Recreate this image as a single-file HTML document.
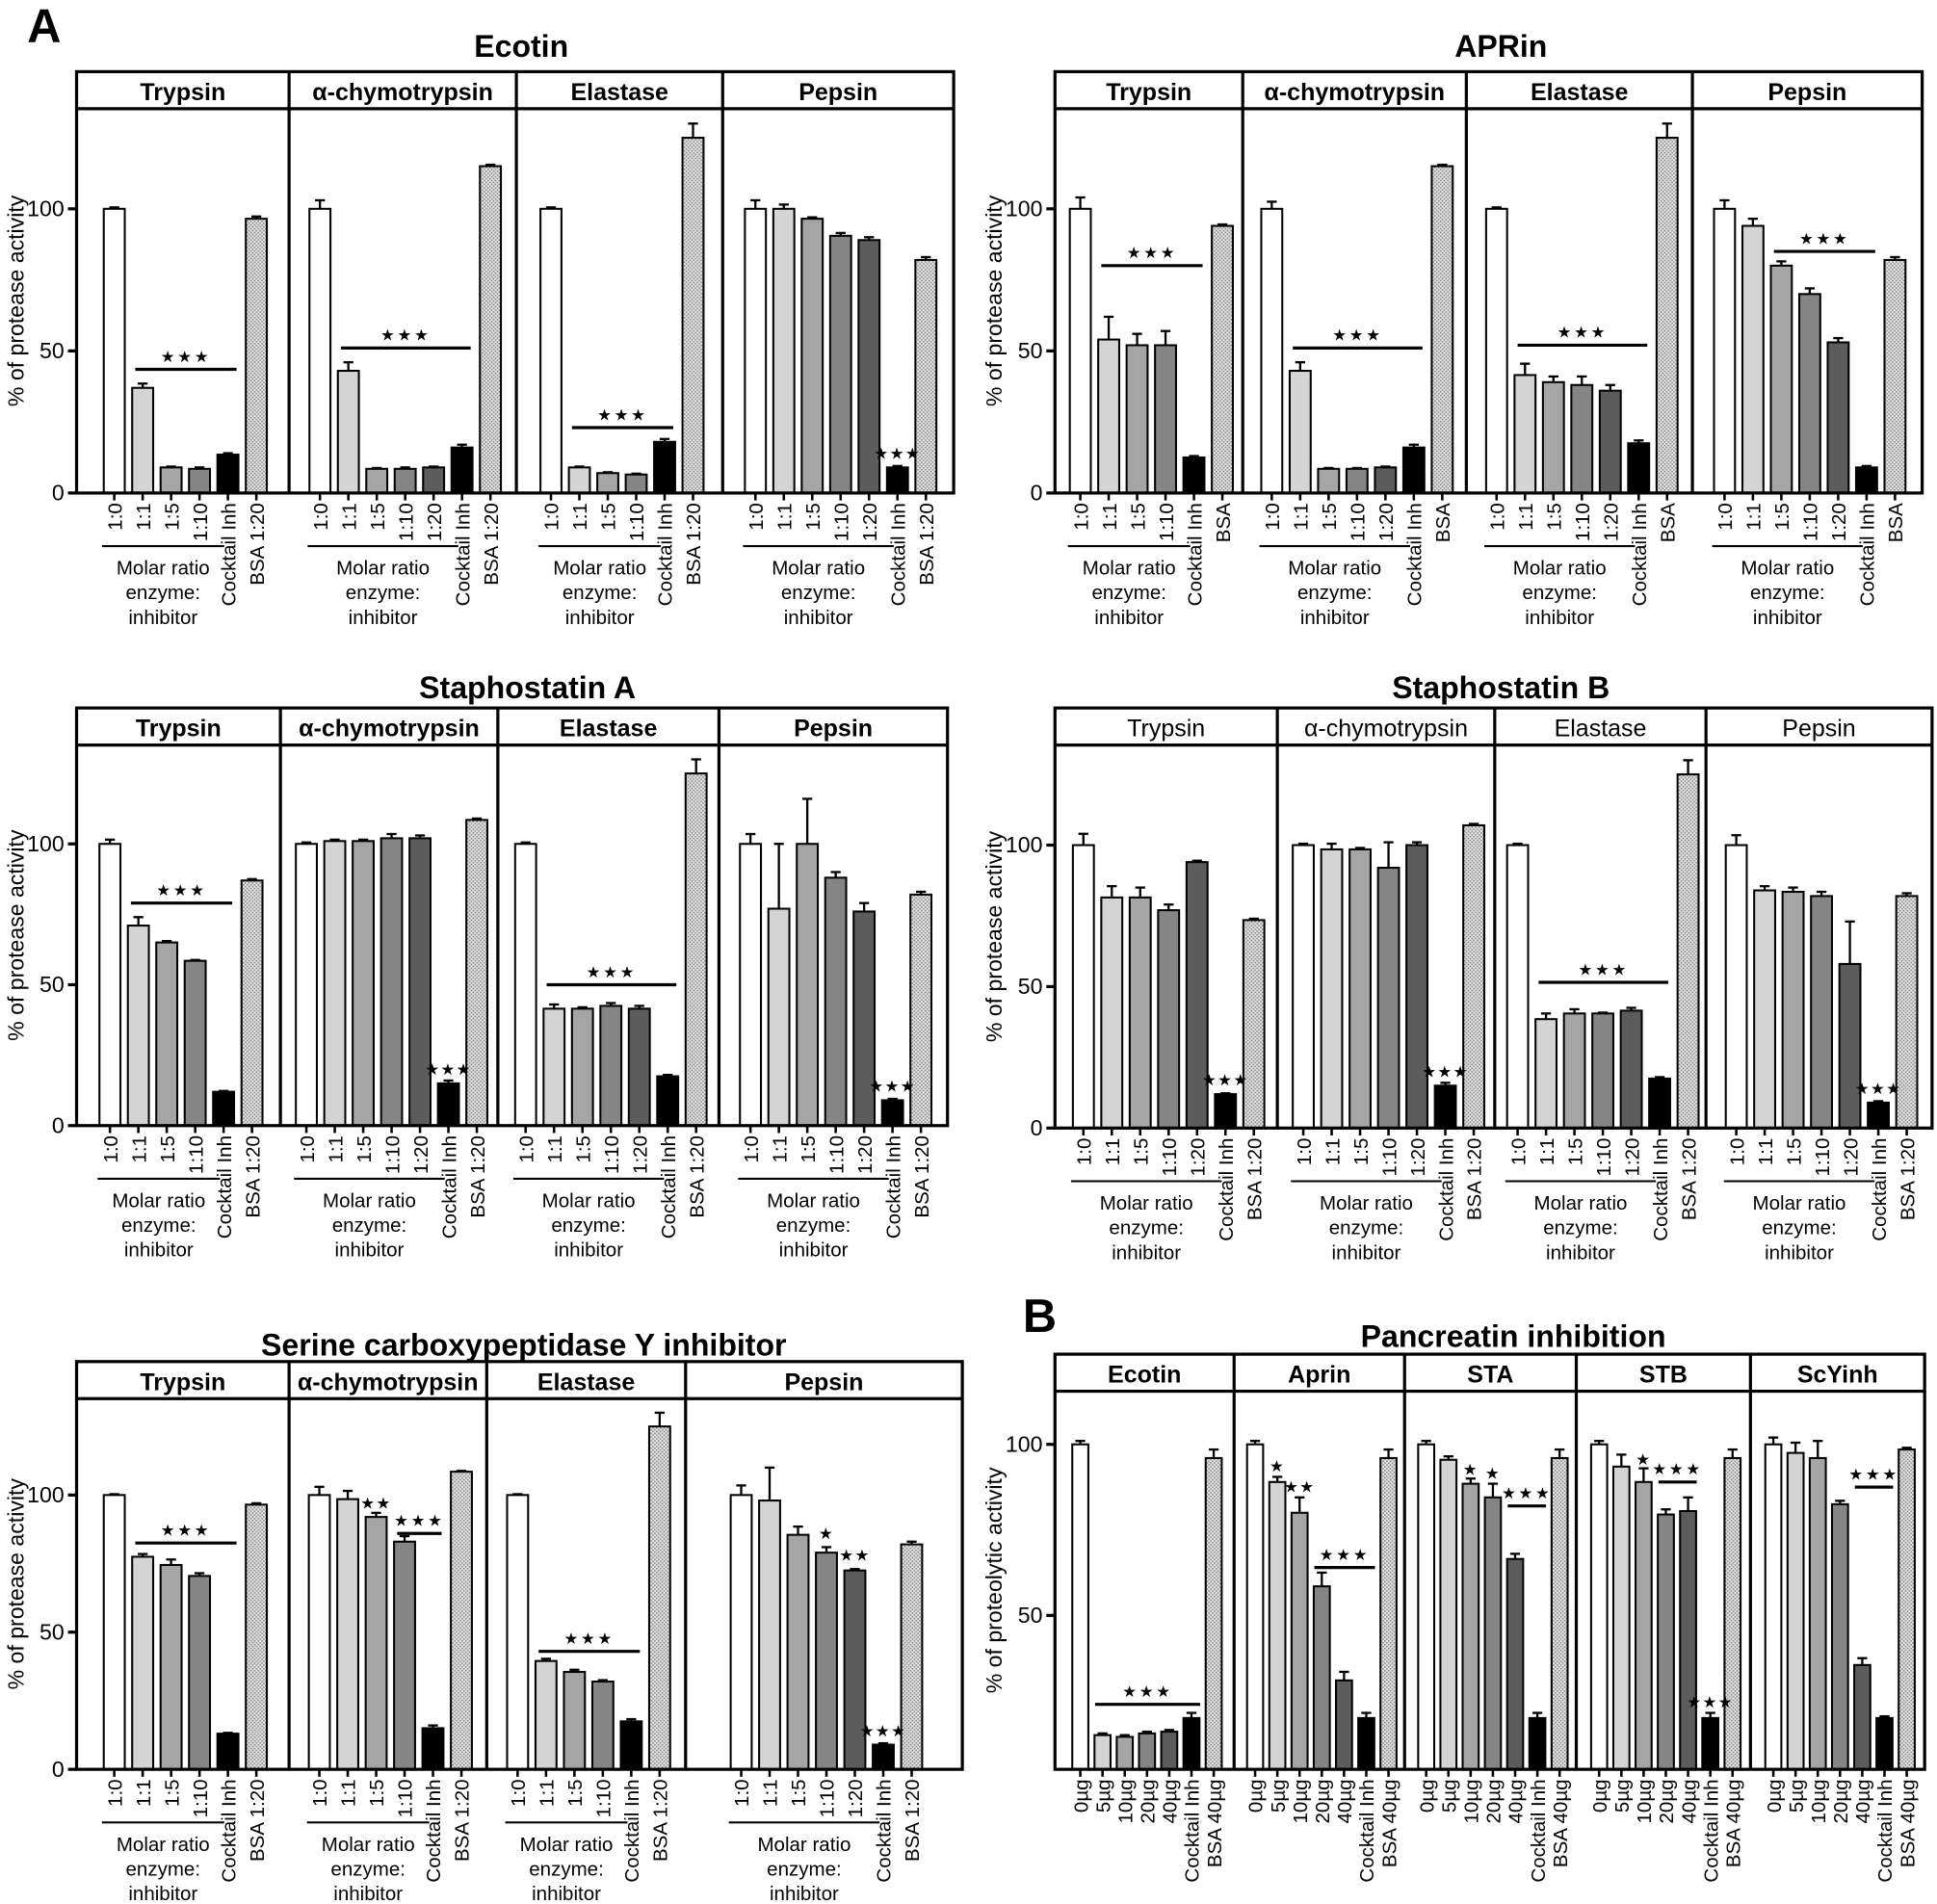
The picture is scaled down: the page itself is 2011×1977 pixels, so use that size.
<!DOCTYPE html>
<html><head><meta charset="utf-8"><style>
html,body{margin:0;padding:0;background:#fff}
svg{display:block}
text{font-family:"Liberation Sans",Arial,sans-serif;fill:#000}
</style></head><body>
<svg id="fig" xmlns="http://www.w3.org/2000/svg" width="2011" height="1977" viewBox="0 0 1568 1541" preserveAspectRatio="none">
<defs>
<pattern id="dots" width="3" height="3" patternUnits="userSpaceOnUse">
<rect width="3" height="3" fill="#e6e6e6"/><rect x="0" y="0" width="1.3" height="1.3" fill="#8a8a8a"/><rect x="1.5" y="1.5" width="1.3" height="1.3" fill="#8a8a8a"/>
</pattern>
</defs>
<text x="22" y="34" font-size="38" font-weight="bold">A</text>
<text x="828" y="1078" font-size="38" font-weight="bold">B</text>
</svg>
<script>
// ---- categories ----
const catsA6 = ["1:0","1:1","1:5","1:10","Cocktail Inh","BSA 1:20"];
const catsA7 = ["1:0","1:1","1:5","1:10","1:20","Cocktail Inh","BSA 1:20"];
const catsB6 = ["1:0","1:1","1:5","1:10","Cocktail Inh","BSA"];
const catsB7 = ["1:0","1:1","1:5","1:10","1:20","Cocktail Inh","BSA"];
const catsP7 = ["0µg","5µg","10µg","20µg","40µg","Cocktail Inh","BSA 40µg"];
const ticksMain = [0,50,100];
const ticksPanc = [50,100];
// ---- Ecotin ----
const ecoTryV=[100,37,9,8.5,13.5,96.5], ecoTryE=[0.5,1.5,0.3,0.5,0.5,0.8];
const ecoChyV=[100,43,8.5,8.5,9,16,115], ecoChyE=[3,3,0.3,0.5,0.3,1,0.5];
const ecoElaV=[100,9,7,6.5,18,125], ecoElaE=[0.5,0.3,0.3,0.3,1,5];
const ecoPepV=[100,100,96.5,90.5,89,9,82], ecoPepE=[3,1.5,0.5,1,1,0.5,1];
// ---- APRin ----
const aprTryV=[100,54,52,52,12.5,94], aprTryE=[4,8,4,5,0.5,0.5];
const aprChyV=[100,43,8.5,8.5,9,16,115], aprChyE=[2.5,3,0.3,0.3,0.3,1,0.5];
const aprElaV=[100,41.5,39,38,36,17.5,125], aprElaE=[0.5,4,2,3,2,1,5];
const aprPepV=[100,94,80,70,53,9,82], aprPepE=[3,2.5,1.5,2,1.5,0.5,1];
// ---- Staphostatin A ----
const staTryV=[100,71,65,58.5,12,87], staTryE=[1.5,3,0.5,0.3,0.3,0.5];
const staChyV=[100,101,101,102,102,15,108.5], staChyE=[0.5,0.5,0.5,1.5,1,1,0.5];
const staElaV=[100,41.5,41.5,42.5,41.5,17.5,125], staElaE=[0.5,1.5,0.5,1,1,0.5,5];
const staPepV=[100,77,100,88,76,9,82], staPepE=[3.5,23,16,2,3,0.5,1];
// ---- Staphostatin B ----
const stbTryV=[100,81.5,81.5,77,94,12,73.5], stbTryE=[4,4,3.5,2,0.5,0.3,0.5];
const stbChyV=[100,98.5,98.5,92,100,15,107], stbChyE=[0.5,2,0.5,9,1,1,0.5];
const stbElaV=[100,38.5,40.5,40.5,41.5,17.5,125], stbElaE=[0.5,2,1.5,0.3,1,0.5,5];
const stbPepV=[100,84,83.5,82,58,9,82], stbPepE=[3.5,1.5,1.5,1.5,15,0.5,1];
// ---- Serine carboxypeptidase Y inhibitor ----
const scyTryV=[100,77.5,74.5,70.5,13,96.5], scyTryE=[0.3,1,2,1,0.3,0.5];
const scyChyV=[100,98.5,92,83,15,108.5], scyChyE=[3,3,1.5,2,1,0.3];
const scyElaV=[100,39.5,35.5,32,17.5,125], scyElaE=[0.3,0.8,0.8,0.5,0.8,5];
const scyPepV=[100,98,85.5,79,72.5,9,82], scyPepE=[3.5,12,3,2,0.5,0.5,1];
// ---- Pancreatin ----
const panEcoV=[100,15,14.5,15.5,16,20,96], panEcoE=[1,0.5,0.5,0.5,0.5,1.5,2.5];
const panAprV=[100,89,80,58.5,31,20,96], panAprE=[1,1.5,4.5,4,2.5,1.5,2.5];
const panStaV=[100,95.5,88.5,84.5,66.5,20,96], panStaE=[1,1,1.5,4,1.5,1.5,2.5];
const panStbV=[100,93.5,89,79.5,80.5,20,96], panStbE=[1,3.5,4,1.5,4,1.5,2.5];
const panScyV=[100,97.5,96,82.5,35.5,20,98.5], panScyE=[2,3,5,1,2,0.5,0.5];

const NS="http://www.w3.org/2000/svg";
const svg=document.getElementById('fig');
function mk(tag,attrs,parent){const e=document.createElementNS(NS,tag);for(const k in attrs)e.setAttribute(k,attrs[k]);(parent||svg).appendChild(e);return e;}
function colorFor(label){
  if(label.startsWith("BSA"))return "url(#dots)";
  if(label.startsWith("Cocktail"))return "#000";
  const m={"1:0":"#fff","1:1":"#d4d4d4","1:5":"#a5a5a5","1:10":"#858585","1:20":"#5c5c5c",
           "0µg":"#fff","5µg":"#d4d4d4","10µg":"#a5a5a5","20µg":"#858585","40µg":"#5c5c5c"};
  return m[label]||"#999";
}
const figures=[
 {id:"ecotin",title:"Ecotin",tx:422,ty:46,x0:62,top:58,y0:399,y100:169,vmin:0,ticks:ticksMain,bold:true,sp:23,bw:17,group:true,
  subs:[{n:"Trypsin",end:234,c:catsA6,v:ecoTryV,e:ecoTryE,sig:[{t:"line",a:1,b:4,v:43.5}]},
        {n:"α-chymotrypsin",end:418,c:catsA7,v:ecoChyV,e:ecoChyE,sig:[{t:"line",a:1,b:5,v:51}]},
        {n:"Elastase",end:585,c:catsA6,v:ecoElaV,e:ecoElaE,sig:[{t:"line",a:1,b:4,v:23}]},
        {n:"Pepsin",end:772,c:catsA7,v:ecoPepV,e:ecoPepE,sig:[{t:"star",a:5,v:12,k:3}]}]},
 {id:"aprin",title:"APRin",tx:1215,ty:46,x0:854,top:58,y0:399,y100:169,vmin:0,ticks:ticksMain,bold:true,sp:23,bw:17,group:true,
  subs:[{n:"Trypsin",end:1006,c:catsB6,v:aprTryV,e:aprTryE,sig:[{t:"line",a:1,b:4,v:80}]},
        {n:"α-chymotrypsin",end:1187,c:catsB7,v:aprChyV,e:aprChyE,sig:[{t:"line",a:1,b:5,v:51}]},
        {n:"Elastase",end:1370,c:catsB7,v:aprElaV,e:aprElaE,sig:[{t:"line",a:1,b:5,v:52}]},
        {n:"Pepsin",end:1556,c:catsB7,v:aprPepV,e:aprPepE,sig:[{t:"line",a:2,b:5,v:85}]}]},
 {id:"staphostatin-a",title:"Staphostatin A",tx:427,ty:565,x0:62,top:573,y0:911,y100:683,vmin:0,ticks:ticksMain,bold:true,sp:23,bw:17,group:true,
  subs:[{n:"Trypsin",end:227,c:catsA6,v:staTryV,e:staTryE,sig:[{t:"line",a:1,b:4,v:79}]},
        {n:"α-chymotrypsin",end:403,c:catsA7,v:staChyV,e:staChyE,sig:[{t:"star",a:5,v:18,k:3}]},
        {n:"Elastase",end:582,c:catsA7,v:staElaV,e:staElaE,sig:[{t:"line",a:1,b:5,v:50}]},
        {n:"Pepsin",end:767,c:catsA7,v:staPepV,e:staPepE,sig:[{t:"star",a:5,v:12,k:3}]}]},
 {id:"staphostatin-b",title:"Staphostatin B",tx:1215,ty:565,x0:854,top:573,y0:913,y100:684,vmin:0,ticks:ticksMain,bold:false,sp:23,bw:17,group:true,
  subs:[{n:"Trypsin",end:1034,c:catsA7,v:stbTryV,e:stbTryE,sig:[{t:"star",a:5,v:15,k:3}]},
        {n:"α-chymotrypsin",end:1210,c:catsA7,v:stbChyV,e:stbChyE,sig:[{t:"star",a:5,v:18,k:3}]},
        {n:"Elastase",end:1381,c:catsA7,v:stbElaV,e:stbElaE,sig:[{t:"line",a:1,b:5,v:51.5}]},
        {n:"Pepsin",end:1564,c:catsA7,v:stbPepV,e:stbPepE,sig:[{t:"star",a:5,v:12,k:3}]}]},
 {id:"scy-inhibitor",title:"Serine carboxypeptidase Y inhibitor",tx:424,ty:1097,x0:62,top:1102,y0:1432,y100:1210,vmin:0,ticks:ticksMain,bold:true,sp:23,bw:17,group:true,
  subs:[{n:"Trypsin",end:234,c:catsA6,v:scyTryV,e:scyTryE,sig:[{t:"line",a:1,b:4,v:82.5}]},
        {n:"α-chymotrypsin",end:394,c:catsA6,v:scyChyV,e:scyChyE,sig:[{t:"star",a:2,v:95,k:2},{t:"line",a:3,b:4,v:86}]},
        {n:"Elastase",end:555,c:catsA6,v:scyElaV,e:scyElaE,sig:[{t:"line",a:1,b:4,v:43}]},
        {n:"Pepsin",end:779,c:catsA7,v:scyPepV,e:scyPepE,sig:[{t:"star",a:3,v:84,k:1},{t:"star",a:4,v:76,k:2},{t:"star",a:5,v:12,k:3}]}]},
 {id:"pancreatin",title:"Pancreatin inhibition",tx:1225,ty:1090,x0:854,top:1096,y0:1432,y100:1169,vmin:5,ticks:ticksPanc,bold:true,sp:18,bw:13,group:false,
  ylabel:"% of proteolytic activity",
  subs:[{n:"Ecotin",end:999,c:catsP7,v:panEcoV,e:panEcoE,sig:[{t:"line",a:1,b:5,v:24}]},
        {n:"Aprin",end:1137,c:catsP7,v:panAprV,e:panAprE,sig:[{t:"star",a:1,v:92,k:1},{t:"star",a:2,v:86,k:2},{t:"line",a:3,b:5,v:64}]},
        {n:"STA",end:1276,c:catsP7,v:panStaV,e:panStaE,sig:[{t:"star",a:2,v:91,k:1},{t:"star",a:3,v:90,k:1},{t:"line",a:4,b:5,v:82}]},
        {n:"STB",end:1417,c:catsP7,v:panStbV,e:panStbE,sig:[{t:"star",a:2,v:94,k:1},{t:"line",a:3,b:4,v:89},{t:"star",a:5,v:23,k:3}]},
        {n:"ScYinh",end:1558,c:catsP7,v:panScyV,e:panScyE,sig:[{t:"line",a:4,b:5,v:87.5}]}]}
];

figures.forEach(f=>{
  const g=mk('g',{});
  
  
  const scale=(f.y0-f.y100)/(100-f.vmin);
  const Y=v=>f.y0-(v-f.vmin)*scale;
  const hb=f.top+30;
  const x1=f.subs[f.subs.length-1].end;
  const t=mk('text',{x:f.tx,y:f.ty,'font-size':25,'font-weight':'bold','text-anchor':'middle'},g);
  t.textContent=f.title;
  
  
  const ym=(hb+f.y0)/2;
  const yl=mk('text',{x:0,y:0,'font-size':18,'text-anchor':'middle',transform:`translate(${f.x0-43},${ym}) rotate(-90)`},g);
  yl.textContent=f.ylabel||"% of protease activity";
  
  
  f.ticks.forEach(tv=>{
    mk('line',{x1:f.x0-7,x2:f.x0,y1:Y(tv),y2:Y(tv),stroke:'#000','stroke-width':2.5},g);
    const tl=mk('text',{x:f.x0-10,y:Y(tv)+6,'font-size':18,'text-anchor':'end'},g);
    tl.textContent=tv;
    
    
  });
  let xs=f.x0;
  f.subs.forEach((s,si)=>{
    const xe=s.end;
    const sg=mk('g',{},g);
    
    
    const h=mk('text',{x:(xs+xe)/2,y:f.top+23,'font-size':19.5,'font-weight':f.bold?'bold':'normal','text-anchor':'middle'},sg);
    h.textContent=s.n;
    
    
    const n=s.v.length;
    const mid=(xs+xe)/2+2;
    const cx=i=>mid+(i-(n-1)/2)*f.sp;
    s.v.forEach((v,i)=>{
      const x=cx(i), yt=Y(v);
      if(s.e[i]>0){
        const ye=Y(v+s.e[i]);
        mk('line',{x1:x,x2:x,y1:yt,y2:ye,stroke:'#000','stroke-width':1.8},sg);
        mk('line',{x1:x-4,x2:x+4,y1:ye,y2:ye,stroke:'#000','stroke-width':1.8},sg);
      }
      const r=mk('rect',{x:x-f.bw/2,y:yt,width:f.bw,height:f.y0-yt,fill:colorFor(s.c[i]),stroke:'#000','stroke-width':1.6},sg);
      
      
      mk('line',{x1:x,x2:x,y1:f.y0,y2:f.y0+6,stroke:'#000','stroke-width':2},sg);
      const lb=mk('text',{x:0,y:0,'font-size':16,'text-anchor':'end',transform:`translate(${x+6},${f.y0+8}) rotate(-90)`},sg);
      lb.textContent=s.c[i];
      
      
    });
    if(f.group){
      const nr=s.c.filter(c=>c.startsWith("1:")).length;
      const gx0=cx(0)-10, gx1=cx(nr-1)+20;
      mk('line',{x1:gx0,x2:gx1,y1:f.y0+43,y2:f.y0+43,stroke:'#000','stroke-width':1.6},sg);
      ["Molar ratio","enzyme:","inhibitor"].forEach((tx,k)=>{
        const gt=mk('text',{x:(gx0+gx1)/2,y:f.y0+66+k*20,'font-size':16,'text-anchor':'middle'},sg);
        gt.textContent=tx;
        
        
      });
    }
    s.sig.forEach(sig=>{
      if(sig.t==="line"){
        const a=cx(sig.a)-6,b=cx(sig.b)+7,y=Y(sig.v);
        mk('line',{x1:a,x2:b,y1:y,y2:y,stroke:'#000','stroke-width':2.5},sg);
        const st=mk('text',{x:(a+b)/2,y:y-6,'font-size':13,'text-anchor':'middle','letter-spacing':2},sg);
        st.textContent="★★★";
        
        
      } else {
        const st=mk('text',{x:cx(sig.a),y:Y(sig.v),'font-size':13,'text-anchor':'middle','letter-spacing':1},sg);
        st.textContent="★".repeat(sig.k);
        
        
      }
    });
    if(si>0) mk('line',{x1:xs,x2:xs,y1:f.top,y2:f.y0,stroke:'#000','stroke-width':2.5},g);
    xs=xe;
  });
  mk('rect',{x:f.x0,y:f.top,width:x1-f.x0,height:f.y0-f.top,fill:'none',stroke:'#000','stroke-width':2.5},g);
  mk('line',{x1:f.x0,x2:x1,y1:hb,y2:hb,stroke:'#000','stroke-width':2.5},g);
});
</script>
</body></html>
